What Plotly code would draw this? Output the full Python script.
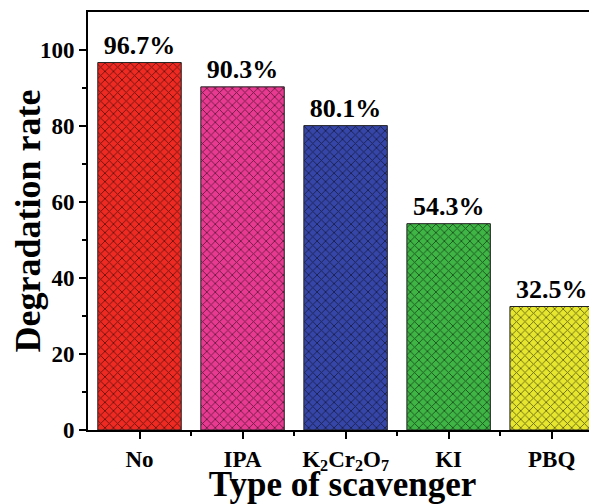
import plotly.graph_objects as go

categories = ["No", "IPA", "K<sub>2</sub>Cr<sub>2</sub>O<sub>7</sub>", "KI", "PBQ"]
rates = [96.7, 90.3, 80.1, 54.3, 32.5]
labels = ["96.7%", "90.3%", "80.1%", "54.3%", "32.5%"]
colors = ["#EE2A22", "#E93A92", "#3646A8", "#3EB544", "#E6E62E"]
y_ticks = [0, 20, 40, 60, 80, 100]

FONT = "Liberation Serif"

fig = go.Figure()
for i, (cat, val, lab, col) in enumerate(zip(categories, rates, labels, colors)):
    fig.add_trace(go.Bar(
        x=[i],
        y=[val],
        name=cat,
        width=0.81,
        text=[lab],
        textposition="outside",
        textfont=dict(family=FONT, size=26, color="black", weight="bold"),
        cliponaxis=False,
        marker=dict(
            color=col,
            line=dict(color="#222222", width=1),
            pattern=dict(shape="x", fillmode="replace", bgcolor=col, fgcolor="#000000",
                         fgopacity=0.55, size=6, solidity=0.28),
        ),
    ))

fig.update_layout(
    width=589, height=496,
    margin=dict(l=80, r=0, t=4, b=74),
    paper_bgcolor="white", plot_bgcolor="white",
    showlegend=False,
    barmode="overlay",
    font=dict(family=FONT, color="black"),
)
fig.update_xaxes(
    range=[-0.5, 4.44],
    tickmode="array",
    tickvals=list(range(len(categories))),
    ticktext=categories,
    tickfont=dict(family=FONT, size=23, color="black", weight="bold"),
    ticks="outside", ticklen=7, tickwidth=2, tickcolor="black",
    minor=dict(tickmode="array", tickvals=[0.5, 1.5, 2.5, 3.5], ticks="outside", ticklen=4, tickwidth=2, tickcolor="black"),
    showline=True, linecolor="black", linewidth=2, mirror=True,
    showgrid=False, zeroline=False,
    automargin=False,
    title=dict(text="<b>Type of scavenger</b>", font=dict(family=FONT, size=35, color="black"), standoff=2),
)
fig.update_yaxes(
    range=[0, 110],
    tickmode="array",
    tickvals=y_ticks,
    tickfont=dict(family=FONT, size=23, color="black", weight="bold"),
    ticks="outside", ticklen=7, tickwidth=2, tickcolor="black",
    minor=dict(tickmode="array", tickvals=[10, 30, 50, 70, 90], ticks="outside", ticklen=4, tickwidth=2, tickcolor="black"),
    showline=True, linecolor="black", linewidth=2, mirror=False,
    showgrid=False, zeroline=False,
    automargin=False,
    title=dict(text="<b>Degradation rate</b>", font=dict(family=FONT, size=36, color="black"), standoff=4),
)

fig.write_html("out.html")
